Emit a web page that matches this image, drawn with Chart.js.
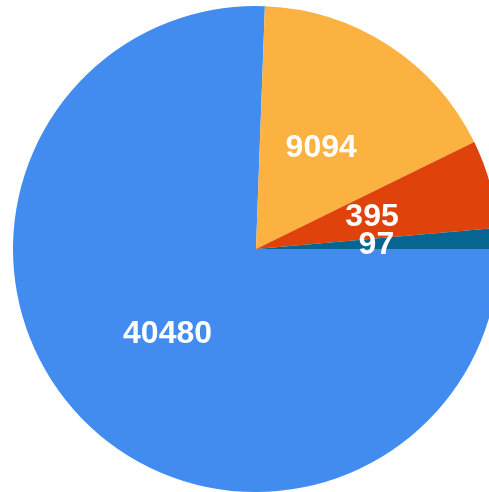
<!DOCTYPE html>
<html>
<head>
<meta charset="utf-8">
<script src="https://cdn.jsdelivr.net/npm/chart.js@4/dist/chart.umd.min.js"></script>
<style>
  html, body { margin: 0; padding: 0; background: #ffffff; overflow: hidden; width: 489px; height: 492px; }
  #wrap { position: absolute; left: 0; top: 0; width: 512px; height: 498px; }
</style>
</head>
<body>
<div id="wrap"><canvas id="c" width="512" height="498"></canvas></div>
<script>
// Categories (slice order, clockwise from 3 o'clock)
const categories = ['A', 'B', 'C', 'D'];
// Values printed on the slices
const valueLabels = ['40480', '9094', '395', '97'];
// Slice sizes (angular share, degrees)
const sliceSizes = [272.1, 61.8, 21.1, 5.0];
// Slice colours
const sliceColors = ['#438cef', '#fbb241', '#df420b', '#066591'];

const labelPlugin = {
  id: 'sliceLabels',
  afterDatasetsDraw(chart) {
    const ctx = chart.ctx;
    const meta = chart.getDatasetMeta(0);
    ctx.save();
    ctx.fillStyle = '#ffffff';
    ctx.font = 'bold 32px "Liberation Sans", Arial, sans-serif';
    ctx.textAlign = 'center';
    ctx.textBaseline = 'middle';
    meta.data.forEach((arc, i) => {
      const p = arc.getCenterPoint();
      ctx.fillText(valueLabels[i], p.x - 1, p.y + 1);
    });
    ctx.restore();
  }
};

new Chart(document.getElementById('c'), {
  type: 'pie',
  data: {
    labels: categories,
    datasets: [{
      data: sliceSizes,
      backgroundColor: sliceColors,
      borderWidth: 0,
      hoverOffset: 0
    }]
  },
  options: {
    responsive: false,
    devicePixelRatio: 1,
    animation: false,
    rotation: 90,
    layout: { padding: { top: 6, bottom: 6, left: 13, right: 13 } },
    plugins: { legend: { display: false }, tooltip: { enabled: false } }
  },
  plugins: [labelPlugin]
});
</script>
</body>
</html>
